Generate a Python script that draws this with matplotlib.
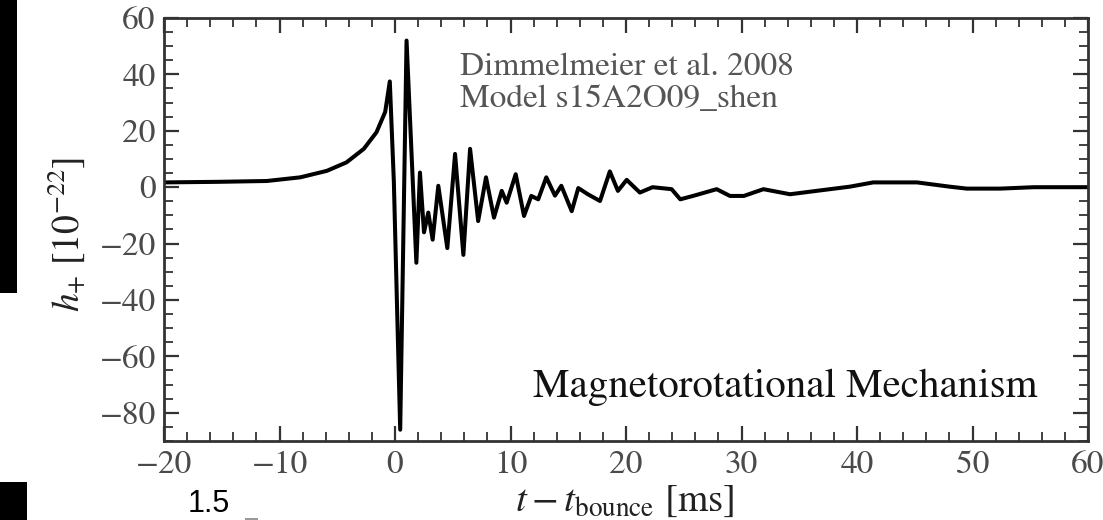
import matplotlib
matplotlib.use("Agg")
import matplotlib.pyplot as plt
from matplotlib.patches import Rectangle
from matplotlib.ticker import MultipleLocator

# ---- data (t - t_bounce in ms, h+ in 1e-22) ----
t_ms = [-20.0, -15.4, -11.1, -8.2, -5.9, -4.2, -2.7, -1.6, -0.85, -0.45,
        -0.1, 0.45, 1.0, 1.85, 2.16, 2.51, 2.88, 3.26, 3.75, 4.53,
        5.2, 5.92, 6.5, 7.2, 7.88, 8.57, 9.24, 9.67, 10.45, 11.17,
        11.8, 12.4, 13.1, 13.85, 14.4, 15.3, 15.87, 16.7, 17.75, 18.6,
        19.3, 20.06, 21.2, 22.3, 23.95, 24.7, 25.8, 27.85, 29.0, 30.2,
        31.9, 34.2, 36.5, 39.4, 41.4, 45.2, 48.0, 49.5, 52.4, 55.3, 60.0]
h_plus = [1.7, 1.9, 2.2, 3.5, 5.8, 8.8, 13.6, 19.5, 26.7, 37.5,
          2.0, -86.0, 52.0, -26.8, 5.2, -16.0, -9.0, -18.6, 0.5, -21.6,
          11.8, -24.0, 13.6, -12.0, 3.5, -10.8, -1.3, -5.5, 4.6, -10.2,
          -3.1, -4.3, 3.5, -3.0, 0.5, -8.5, -0.3, -2.5, -4.9, 5.6,
          -1.3, 2.6, -1.9, 0.0, -0.7, -4.3, -3.1, -0.7, -3.1, -3.1,
          -0.7, -2.5, -1.3, 0.2, 1.7, 1.7, 0.2, -0.5, -0.5, 0.0, 0.0]

x_ticks = [-20, -10, 0, 10, 20, 30, 40, 50, 60]
y_ticks = [-80, -60, -40, -20, 0, 20, 40, 60]

ref_line1 = "Dimmelmeier et al. 2008"
ref_line2 = "Model s15A2O09_shen"
mechanism = "Magnetorotational Mechanism"
x_label = r"$t - t_{\mathrm{bounce}}$ [ms]"
y_label = r"$h_{+}\ [10^{-22}]$"

plt.rcParams["font.family"] = ["STIXGeneral", "DejaVu Serif"]
plt.rcParams["mathtext.fontset"] = "stix"

W, H = 1103, 520
fig = plt.figure(figsize=(W / 100, H / 100), dpi=100)
fig.patch.set_facecolor("white")

def fx(px):
    return px / W

def fy(py):
    return 1 - py / H

ax = fig.add_axes([fx(164), fy(441), fx(1088) - fx(164), fy(18) - fy(441)])
ax.plot(t_ms, h_plus, color="black", lw=2.9, solid_joinstyle="round",
        solid_capstyle="round")
ax.set_xlim(-20, 60)
ax.set_ylim(-90, 60)
ax.set_xticks(x_ticks)
ax.set_yticks(y_ticks)
ax.xaxis.set_minor_locator(MultipleLocator(2))
ax.yaxis.set_minor_locator(MultipleLocator(5))
ax.set_xticklabels([str(v).replace("-", "\u2212") for v in x_ticks])
ax.set_yticklabels([str(v).replace("-", "\u2212") for v in y_ticks])
ax.tick_params(which="both", direction="in", top=True, right=True,
               color="#333333", labelcolor="#4a4a4a", labelsize=24)
ax.tick_params(which="major", length=11, width=1.6)
ax.tick_params(which="minor", length=6.5, width=1.3)
ax.tick_params(axis="x", which="major", pad=7)
ax.tick_params(axis="y", which="major", pad=6)
for s in ax.spines.values():
    s.set_linewidth(2.0)
    s.set_color("#333333")

ax.text(fx(460), fy(75), ref_line1, transform=fig.transFigure,
        fontsize=24, color="#555555", ha="left", va="baseline")
ax.text(fx(460), fy(107), ref_line2, transform=fig.transFigure,
        fontsize=24, color="#555555", ha="left", va="baseline")
ax.text(fx(533), fy(397), mechanism, transform=fig.transFigure,
        fontsize=29.5, color="#111111", ha="left", va="baseline")

fig.text(fx(625), fy(511), x_label, fontsize=28, color="#222222",
         ha="center", va="baseline")
fig.text(fx(66), fy(234), y_label, fontsize=27, color="#222222",
         ha="center", va="center", rotation=90)

# fragments of neighbouring panels visible in the reference crop
fig.add_artist(Rectangle((0, fy(293)), fx(17), 1 - fy(293),
                         transform=fig.transFigure, color="black", lw=0))
fig.add_artist(Rectangle((0, 0), fx(27), fy(482),
                         transform=fig.transFigure, color="black", lw=0))
fig.text(fx(188), fy(519), "1.5", family="Liberation Sans", fontsize=22,
         color="black", ha="left", va="bottom")
fig.add_artist(Rectangle((fx(245), 0), fx(13), 2.5 / H,
                         transform=fig.transFigure, color="#999999", lw=0))

fig.savefig("out.png", dpi=100)
